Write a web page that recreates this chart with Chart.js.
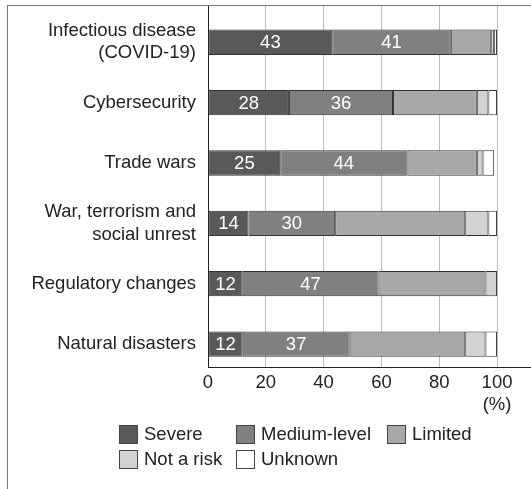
<!DOCTYPE html>
<html>
<head>
<meta charset="utf-8">
<script src="https://cdn.jsdelivr.net/npm/chart.js@4/dist/chart.umd.min.js"></script>
<style>
    html, body { margin: 0; padding: 0; background: #fff; }
    #wrap { position: relative; width: 531px; height: 489px; }
    #frame { position: absolute; left: 7px; top: 5px; right: 0; bottom: 0;
             border-top: 1px solid #777; border-left: 1px solid #777; }
    #chart { position: absolute; left: 0; top: 0; }
    .lg-item { position: absolute; display: flex; align-items: center;
               font-family: 'Liberation Sans', Arial, sans-serif; font-size: 18.5px; color: #222; }
    .lg-box { width: 17px; height: 17px; border: 1px solid #444; margin-right: 6px; }
</style>
</head>
<body>
<div id="wrap">
    <div id="frame"></div>
    <canvas id="chart" width="531" height="489"></canvas>
    <div id="legend"></div>
</div>
<script>
// categories (top to bottom)
const categories = [
    ['Infectious disease', '(COVID-19)'],
    'Cybersecurity',
    'Trade wars',
    ['War, terrorism and', 'social unrest'],
    'Regulatory changes',
    'Natural disasters'
];

// shares in %
const severe     = [43, 28, 25, 14, 12, 12];
const medium     = [41, 36, 44, 30, 47, 37];
const limited    = [14, 29, 24, 45, 37, 40];
const notARisk   = [1, 4, 2, 8, 4, 7];
const unknown    = [1, 3, 4, 3, 0, 4];

const seriesNames  = ['Severe', 'Medium-level', 'Limited', 'Not a risk', 'Unknown'];
const seriesColors = ['#59595b', '#808083', '#a7a8aa', '#d1d2d4', '#ffffff'];
const xTicks = [0, 20, 40, 60, 80, 100];

const FONT = "'Liberation Sans', Arial, sans-serif";
Chart.defaults.font.family = FONT;
Chart.defaults.font.size = 18.5;
Chart.defaults.color = '#222';

// y is a linear index scale so the bands can sit off-centre like the original
function toPoints(values) {
    return values.map((v, i) => ({ x: v, y: i }));
}

const allSeries = [severe, medium, limited, notARisk, unknown];
const datasets = allSeries.map((values, k) => ({
    label: seriesNames[k],
    data: toPoints(values),
    backgroundColor: seriesColors[k],
    borderColor: '#333',
    borderWidth: 1,
    borderSkipped: false,
    barPercentage: 0.42,
    categoryPercentage: 1
}));

// white numbers inside the first two segments
const valueLabels = {
    id: 'valueLabels',
    afterDatasetsDraw(chart) {
        const ctx = chart.ctx;
        ctx.save();
        ctx.fillStyle = '#fff';
        ctx.font = '18.5px ' + FONT;
        ctx.textAlign = 'center';
        ctx.textBaseline = 'middle';
        [0, 1].forEach(di => {
            chart.getDatasetMeta(di).data.forEach((bar, i) => {
                const p = bar.getCenterPoint();
                ctx.fillText(String(allSeries[di][i]), p.x, p.y + 1);
            });
        });
        ctx.restore();
    }
};

const chart = new Chart(document.getElementById('chart'), {
    type: 'bar',
    data: { datasets: datasets },
    plugins: [valueLabels],
    options: {
        indexAxis: 'y',
        responsive: false,
        animation: false,
        layout: { padding: { top: 6, right: 1, left: 0, bottom: 0 } },
        scales: {
            x: {
                type: 'linear',
                stacked: true,
                min: 0,
                max: 111.4,
                afterBuildTicks: (scale) => { scale.ticks = xTicks.map(v => ({ value: v })); },
                afterFit: (scale) => { scale.height = 122; scale.paddingLeft = 0; scale.paddingRight = 0; },
                grid: { color: '#bdbdbd', lineWidth: 1, drawTicks: false },
                border: { display: true, color: '#222', width: 1 },
                ticks: {
                    padding: 5,
                    color: '#222',
                    callback: (v) => v === 100 ? ['100', '(%)'] : String(v)
                }
            },
            y: {
                type: 'linear',
                stacked: true,
                reverse: true,
                offset: false,
                min: -0.6,
                max: 5.38,
                afterBuildTicks: (scale) => { scale.ticks = categories.map((c, i) => ({ value: i })); },
                // labels sit inside the range, so no extra edge padding is needed
                afterFit: (scale) => { scale.width = 208; scale.paddingTop = 0; scale.paddingBottom = 0; },
                grid: { display: false, drawTicks: false, offset: false },
                border: { display: true, color: '#222', width: 1 },
                ticks: {
                    padding: 12,
                    color: '#222',
                    callback: (v) => categories[v]
                }
            }
        },
        plugins: {
            legend: { display: false },
            tooltip: { enabled: false }
        }
    }
});

// legend laid out in three aligned columns like the source
const legendSpots = [[119, 423], [236, 423], [387, 423], [119, 448], [236, 448]];
const legend = document.getElementById('legend');
chart.data.datasets.forEach((ds, k) => {
    const item = document.createElement('div');
    item.className = 'lg-item';
    item.style.left = legendSpots[k][0] + 'px';
    item.style.top = legendSpots[k][1] + 'px';
    item.innerHTML = `<div class="lg-box" style="background:${ds.backgroundColor}"></div><span>${ds.label}</span>`;
    legend.appendChild(item);
});
</script>
</body>
</html>
